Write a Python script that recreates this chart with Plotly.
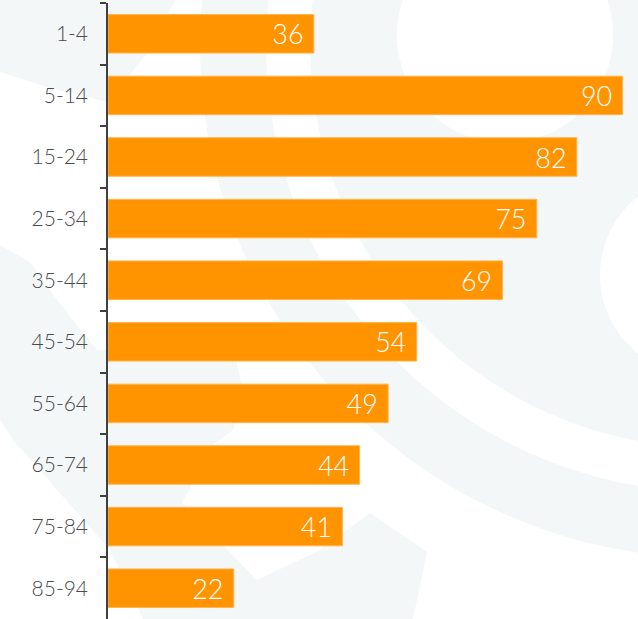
import numpy as np
import plotly.graph_objects as go

# Age bands and values
age_groups = ["1-4", "5-14", "15-24", "25-34", "35-44",
              "45-54", "55-64", "65-74", "75-84", "85-94"]
values = [36, 90, 82, 75, 69, 54, 49, 44, 41, 22]

W, H = 638, 619
ML, MR, MT, MB = 108, 0, 3, 0
PW, PH = W - ML - MR, H - MT - MB

BAR = "#FF9300"
SOFT = "#F3F7F8"


def to_paper(x, y):
    return (x - ML) / PW, 1 - (y - MT) / PH


def poly_path(pts):
    parts = []
    for i, (x, y) in enumerate(pts):
        px, py = to_paper(x, y)
        parts.append(("M" if i == 0 else "L") + f"{px:.4f},{py:.4f}")
    return " ".join(parts) + " Z"


def circle_pts(cx, cy, r, n=120):
    t = np.linspace(0, 2 * np.pi, n, endpoint=False)
    return list(zip(cx + r * np.cos(t), cy + r * np.sin(t)))


def ring_pts(cx, cy, r0, r1, n=160):
    t = np.linspace(0, 2 * np.pi, n)
    outer = list(zip(cx + r1 * np.cos(t), cy + r1 * np.sin(t)))
    inner = list(zip(cx + r0 * np.cos(t[::-1]), cy + r0 * np.sin(t[::-1])))
    return outer + inner


def shape(pts, color):
    return dict(type="path", path=poly_path(pts), xref="paper", yref="paper",
                fillcolor=color, line=dict(width=0), layer="below")


# decorative watermark arcs behind the chart
cx, cy = 712, 46
shapes = [
    shape(circle_pts(cx, cy, 402), SOFT),
    shape(circle_pts(505, 35, 108), "#FFFFFF"),
    shape(circle_pts(700, 275, 100), "#FFFFFF"),
    shape(ring_pts(cx, cy, 446, 512), SOFT),
    shape([(0, 0), (175, 0), (150, 50), (107, 102), (50, 88), (0, 72)], SOFT),
    shape([(0, 245), (30, 262), (57, 300), (97, 350), (235, 355), (245, 400),
           (233, 430), (213, 445), (182, 503), (257, 580), (320, 550),
           (370, 513), (427, 552), (413, 619), (143, 619), (110, 550),
           (13, 440), (0, 420)], SOFT),
]

fig = go.Figure(go.Bar(
    x=values,
    y=age_groups,
    orientation="h",
    marker=dict(color=BAR, line=dict(color="#FFB54D", width=1)),
    text=[f"{v}\u00a0" for v in values],
    textposition="inside",
    insidetextanchor="end",
    textfont=dict(family="Lato", size=29, color="#FFFFFF", weight=300),
    hoverinfo="skip",
))

fig.update_layout(
    width=W, height=H,
    margin=dict(l=ML, r=MR, t=MT, b=MB, pad=0),
    paper_bgcolor="#FFFFFF",
    plot_bgcolor="rgba(0,0,0,0)",
    bargap=0.375,
    showlegend=False,
    shapes=shapes,
    xaxis=dict(visible=False, range=[0, 92.7], fixedrange=True),
    yaxis=dict(
        type="category",
        categoryorder="array", categoryarray=age_groups,
        range=[9.5, -0.5],
        showline=True, linecolor="#404040", linewidth=1.5,
        ticks="outside", tickson="boundaries", ticklen=6,
        tickcolor="#404040", tickwidth=1.5,
        ticklabelstandoff=14,
        tickfont=dict(family="Lato", size=21, color="#4a4a4a", weight=300),
        showgrid=False, zeroline=False, fixedrange=True,
    ),
)

fig.write_html("out.html")
